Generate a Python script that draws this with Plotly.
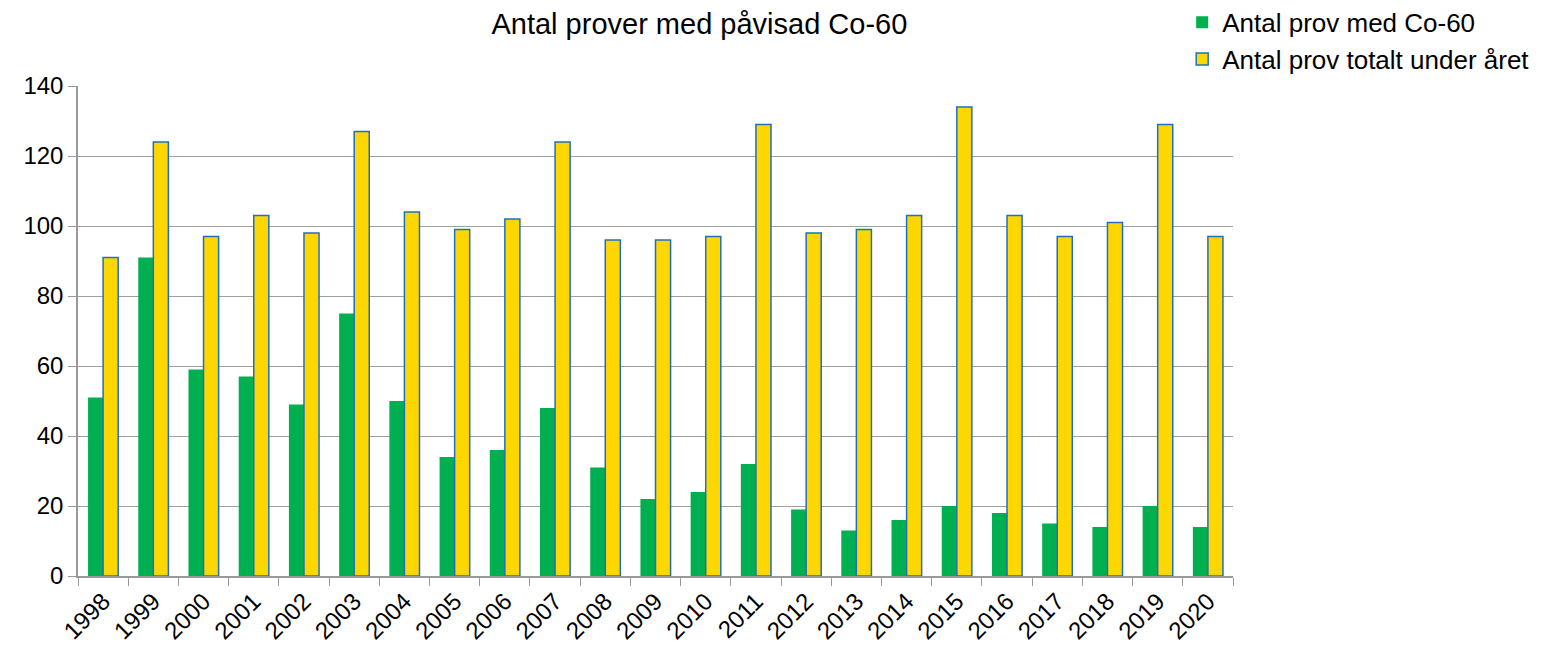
import plotly.graph_objects as go

years = [str(y) for y in range(1998, 2021)]
co60 = [51, 91, 59, 57, 49, 75, 50, 34, 36, 48, 31, 22, 24, 32, 19, 13, 16, 20, 18, 15, 14, 20, 14]
totalt = [91, 124, 97, 103, 98, 127, 104, 99, 102, 124, 96, 96, 97, 129, 98, 99, 103, 134, 103, 97, 101, 129, 97]

fig = go.Figure()
fig.add_trace(go.Bar(x=years, y=co60, name="Antal prov med Co-60",
                     marker=dict(color="#00B050", line=dict(width=0))))
fig.add_trace(go.Bar(x=years, y=totalt, name="Antal prov totalt under året",
                     marker=dict(color="#FFD700", line=dict(color="#1F6FC0", width=1.5))))

fig.update_layout(
    width=1539, height=641,
    margin=dict(l=70, r=314, t=78, b=73, autoexpand=False),
    paper_bgcolor="white", plot_bgcolor="white",
    font=dict(family="Liberation Sans, Arial", size=24, color="black"),
    barmode="group", bargap=0.4, bargroupgap=0.0,
    title=dict(text="Antal prover med påvisad Co-60", x=0.538, xref="paper", xanchor="center",
               y=0.975, yanchor="middle", font=dict(size=29)),
    legend=dict(x=0.956, y=1.178, xanchor="left", yanchor="top", bgcolor="rgba(0,0,0,0)",
                font=dict(size=26), tracegroupgap=0, itemwidth=30),
    showlegend=True,
)
fig.update_xaxes(tickangle=-45, showline=True, linecolor="#999999", linewidth=1.5,
                 ticks="outside", tickson="boundaries", ticklen=8, tickcolor="#999999",
                 showgrid=False, automargin=False)
fig.update_yaxes(range=[0, 140], dtick=20, showline=True, linecolor="#999999", linewidth=1.5,
                 ticks="outside", ticklen=8, tickcolor="#999999",
                 showgrid=True, gridcolor="#A0A0A0", gridwidth=1, zeroline=False, automargin=False)

fig.write_html("out.html")
